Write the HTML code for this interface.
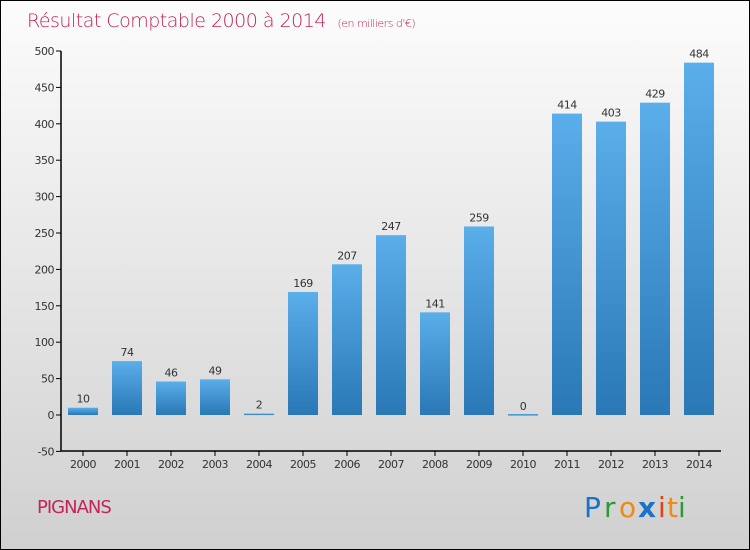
<!DOCTYPE html>
<html><head><meta charset="utf-8"><style>
body{margin:0}
#c{width:748px;height:548px;border:1px solid #000;position:relative;background:linear-gradient(#fcfcfc,#d0d0d0);font-family:"DejaVu Sans","Liberation Sans",sans-serif;overflow:hidden}
</style></head><body>
<div id="c">
<svg width="748" height="548" xmlns="http://www.w3.org/2000/svg">
<defs><linearGradient id="g" x1="0" y1="0" x2="0" y2="1"><stop offset="0" stop-color="#5aaeea"/><stop offset="1" stop-color="#2a78b6"/></linearGradient></defs>
<text x="26" y="26" font-size="19" fill="#c3245a" font-family="'DejaVu Sans',sans-serif" font-weight="200" letter-spacing="-0.5">Résultat Comptable 2000 à 2014 <tspan font-size="11" dx="6">(en milliers d'€)</tspan></text>
<g id="plot"></g>
<text x="36" y="512" font-size="18" fill="#c3245a" letter-spacing="-1">PIGNANS</text>
<g font-size="28" font-family="'DejaVu Sans',sans-serif">
<text x="583" y="516" fill="#1a73c8">P</text><text x="603" y="516" fill="#2a9a3a">r</text><text x="618" y="516" fill="#f08a10">o</text><text x="637" y="516" fill="#1a73c8" font-weight="bold">x</text><text x="657" y="516" fill="#e84010">i</text><text x="666" y="516" fill="#f08a10">t</text><text x="677" y="516" fill="#2a9a3a">i</text>
</g>
</svg>
</div>
<script>
const years=["2000","2001","2002","2003","2004","2005","2006","2007","2008","2009","2010","2011","2012","2013","2014"];
const values=[10,74,46,49,2,169,207,247,141,259,0,414,403,429,484];
const yTicks=[-50,0,50,100,150,200,250,300,350,400,450,500];
const NS="http://www.w3.org/2000/svg";
const g=document.getElementById('plot');
const y=v=>414-v*(364/500);
const x=i=>82+i*44;
function mk(t,a){const e=document.createElementNS(NS,t);for(const k in a)e.setAttribute(k,a[k]);g.appendChild(e);return e;}
let ax=mk('path',{d:'M60 50V450H720',stroke:'#000','stroke-width':1.5,fill:'none'});


yTicks.forEach(v=>{
 mk('line',{x1:55,x2:60,y1:y(v),y2:y(v),stroke:'#000'});
 const t=mk('text',{x:53,y:y(v)+4,'text-anchor':'end','font-size':11,fill:'#333','letter-spacing':'-0.5'});t.textContent=v;
 
 
});
years.forEach((yr,i)=>{
 mk('line',{x1:x(i),x2:x(i),y1:450,y2:455,stroke:'#000'});
 const t=mk('text',{x:x(i),y:467,'text-anchor':'middle','font-size':11,fill:'#333','letter-spacing':'-0.5'});t.textContent=yr;
 
 
 const v=values[i];const top=y(Math.max(v,0)),h=Math.max(Math.abs(y(v)-y(0)),1.5);
 const r=mk('rect',{x:x(i)-15,y:v>0?top:y(0)-1,width:30,height:h,fill:'url(#g)'});
 
 
 const l=mk('text',{x:x(i),y:y(Math.max(v,0))-5,'text-anchor':'middle','font-size':11,fill:'#333','letter-spacing':'-0.5'});l.textContent=v;
 
 
});
</script>
</body></html>
